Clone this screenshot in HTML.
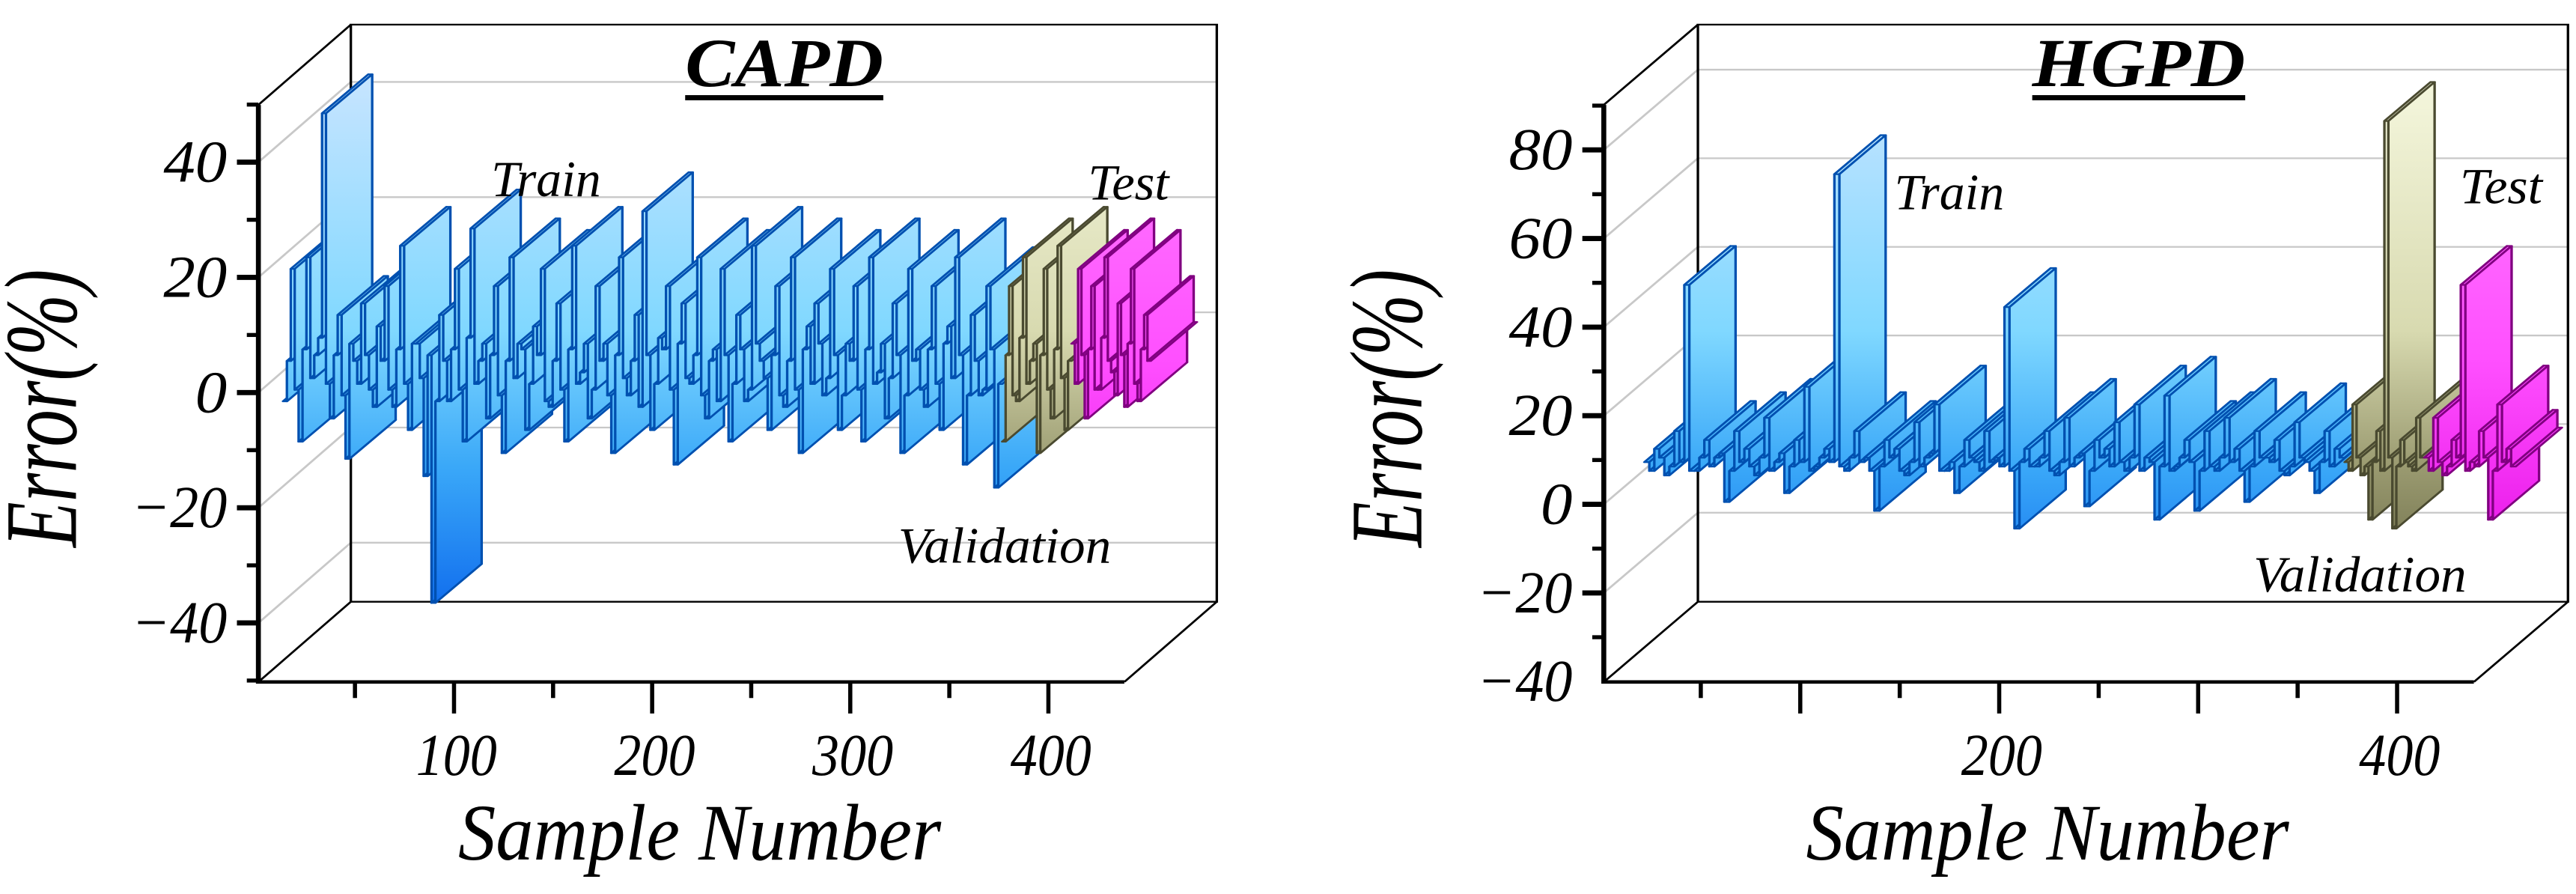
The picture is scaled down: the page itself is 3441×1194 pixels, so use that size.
<!DOCTYPE html>
<html><head><meta charset="utf-8"><style>
html,body{margin:0;padding:0;background:#fff;}
svg{display:block;}
text{font-family:"Liberation Serif","DejaVu Serif",serif;font-style:italic;fill:#000;}
</style></head>
<body>
<svg id="fig" width="3441" height="1194" viewBox="0 0 3441 1194">
<defs>
<linearGradient id="gTrain" gradientUnits="userSpaceOnUse" x1="0" y1="150" x2="0" y2="1100">
<stop offset="0" stop-color="#c4e4ff"/><stop offset="0.45" stop-color="#80d8ff"/><stop offset="0.7" stop-color="#3aa8f8"/><stop offset="1" stop-color="#0a64ec"/></linearGradient>
<linearGradient id="gVal" gradientUnits="userSpaceOnUse" x1="0" y1="150" x2="0" y2="1100">
<stop offset="0" stop-color="#f4f6dc"/><stop offset="0.45" stop-color="#d8dab0"/><stop offset="0.7" stop-color="#9a9a70"/><stop offset="1" stop-color="#5a5a38"/></linearGradient>
<linearGradient id="gTest" gradientUnits="userSpaceOnUse" x1="0" y1="150" x2="0" y2="1100">
<stop offset="0" stop-color="#ff80ff"/><stop offset="0.5" stop-color="#ff50ff"/><stop offset="1" stop-color="#e000e0"/></linearGradient>
</defs>
<g id="chartL" transform="scale(1.1027,0.7654)"></g>
<g id="chartR" transform="translate(1720,0) scale(1.1027,0.7654)"></g>
</svg>
<script>
// CAPD data (Error %)
const capdTrain = [-5,2,18,-3,-12,4,20,-1,3,6,45,-2,-8,3,10,-4,-15,5,2,-2,12,3,-3,-6,8,2,15,-3,-6,4,22,-2,-10,5,5,-1,-18,3,-40,-5,10,2,-5,4,18,-3,-12,6,25,-2,2,5,-8,3,15,-4,-14,2,20,-1,5,4,-10,-2,8,3,18,-5,-6,2,12,-3,-12,4,22,-2,0,5,-8,-3,15,2,5,-4,-14,3,20,-1,-4,2,10,-6,28,3,-10,-2,6,4,15,-3,-16,5,12,-1,-2,3,20,-4,-8,2,4,-5,18,3,-12,-2,10,4,-5,-3,22,5,2,-1,-10,3,15,-4,-6,2,20,-3,-14,4,8,-2,12,5,-4,-1,18,3,-10,-4,5,2,15,-3,-12,4,20,-2,0,5,-8,-1,12,3,-14,-4,18,2,4,-3,-6,4,15,-2,-10,5,8,-1,20,3,-16,-4,10,2,-4,-3,15,4,-20,-2];
const capdVal = [-12,3,15,-4,-5,6,20,-2,2,5,-14,3,18,-3,-8,4,22,-1,-10,2];
const capdTest = [5,-2,18,3,-8,4,15,-3,-3,6,20,2,0,-4,12,3,-6,5,18,-2,-5,4,10,2];
const capdYTicks = [-40,-20,0,20,40];
const capdXTicks = [100,200,300,400];
// HGPD data (Error %)
const hgpdTrain = [5,3,8,6,2,4,12,5,45,3,3,6,10,4,6,7,-4,3,12,5,8,4,2,6,15,3,5,7,-2,4,10,5,22,3,4,6,8,5,70,4,3,6,12,5,6,3,-6,4,10,6,8,3,2,5,14,4,6,7,18,3,3,5,-2,4,10,6,5,3,12,5,6,4,40,3,-10,5,8,4,4,6,12,3,2,5,15,4,6,7,-5,3,10,6,8,4,14,5,3,6,18,3,6,5,-8,4,20,3,4,6,10,5,-6,3,12,4,3,6,15,5,8,3,-4,4,12,6,6,5,10,3,2,4,14,6,5,3,-2,5,12,4,8,6];
const hgpdVal = [5,3,18,6,2,4,-8,5,12,3,82,6,-10,4,10,5,4,3,15,6];
const hgpdTest = [6,3,15,5,2,4,10,6,45,3,5,4,12,6,-8,3,18,5,8,4];
const hgpdYTicks = [-40,-20,0,20,40,60,80];
const hgpdXTicks = [200,400];

const NS = "http://www.w3.org/2000/svg";
function mk(tag, attrs, parent){const e=document.createElementNS(NS,tag);for(const k in attrs)e.setAttribute(k,attrs[k]);parent.appendChild(e);return e;}

function drawChart(g, c){
  const X = s => c.x0 + s*c.xs;
  const Y = v => c.y0 - v*c.ys;
  const L=c.L, R=c.R, T=c.T, B=c.B, dx=c.dx, dy=c.dy;
  for(let v=c.gmin; v<=c.gmax; v+=20){
    const gl = mk('line',{x1:L+dx,y1:Y(v)+dy,x2:R+dx,y2:Y(v)+dy,stroke:'#c8c8c8','stroke-width':3},g);
    
    
    const sl = mk('line',{x1:L,y1:Y(v),x2:L+dx,y2:Y(v)+dy,stroke:'#c8c8c8','stroke-width':3},g);
    
    
  }
  const frame = mk('path',{d:`M${L+dx},${B+dy} V${T+dy} H${R+dx} V${B+dy} H${L+dx} M${L},${T} L${L+dx},${T+dy} M${L},${B} L${L+dx},${B+dy} M${R},${B} L${R+dx},${B+dy}`,fill:'none',stroke:'#000','stroke-width':3},g);
  
  
  const series = [[c.train,c.trainStart,c.trainEnd,'url(#gTrain)','#0050b0','train-series'],[c.val,c.valStart,c.valEnd,'url(#gVal)','#4a4a30','validation-series'],[c.test,c.testStart,c.testEnd,'url(#gTest)','#800080','test-series']];
  const ox=c.ox, oy=c.oy, rx=c.rx, ry=c.ry;
  series.forEach(([vals,s0,s1,fill,stroke,name])=>{
    const sg = mk('g',{},g);
    
    
    const step=(s1-s0)/vals.length;
    const quad=(xa,ya,xb,yb)=>{
      const p = mk('polygon',{points:`${xa+ox},${ya+oy} ${xb+ox},${yb+oy} ${xb+ox+rx},${yb+oy+ry} ${xa+ox+rx},${ya+oy+ry}`,fill:fill,stroke:stroke,'stroke-width':3,'stroke-linejoin':'round'},sg);
      
      
    };
    for(let i=0;i<vals.length;i++){
      const xa=X(s0+i*step), xb=X(s0+(i+1)*step);
      if(i>0) quad(xa,Y(vals[i-1]),xa,Y(vals[i]));
      quad(xa,Y(vals[i]),xb,Y(vals[i]));
    }
  });
  const ax = mk('path',{d:`M${L},${T} V${B} H${R}`,fill:'none',stroke:'#000','stroke-width':6},g);
  
  
  for(let v=c.gmin-10; v<=c.gmax+10; v+=10){
    if(Y(v)<T-1||Y(v)>B+1) continue;
    const major = (v%20===0);
    const t = mk('line',{x1:L-(major?26:14),y1:Y(v),x2:L,y2:Y(v),stroke:'#000','stroke-width':major?9:7},g);
    
    
  }
  c.yTicks.forEach(v=>{
    const lbl=(v<0?'\u2212':'')+Math.abs(v);
    const t = mk('text',{x:L-38,y:Y(v)+34,'text-anchor':'end','font-size':104,'font-family':'Liberation Serif, DejaVu Serif, serif',textLength:(lbl.length*38.5),lengthAdjust:'spacingAndGlyphs'},g);
    t.textContent=lbl;
    
    
  });
  for(let s=50; X(s)<R; s+=50){
    const major = (s%100===0);
    const t = mk('line',{x1:X(s),y1:B,x2:X(s),y2:B+(major?55:28),stroke:'#000','stroke-width':5},g);
    
    
  }
  c.xTicks.forEach(s=>{
    const t = mk('text',{x:X(s)+3,y:B+162,'text-anchor':'middle','font-size':104,'font-family':'Liberation Serif, DejaVu Serif, serif',textLength:98,lengthAdjust:'spacingAndGlyphs'},g);
    t.textContent=String(s);
    
    
  });
}

const chartL=document.getElementById('chartL');
drawChart(chartL,{x0:310,xs:2.4,y0:685,ys:10.05,L:313,R:1362,T:183,B:1190,dx:112,dy:-140,gmin:-40,gmax:40,
  ox:28,oy:-35,rx:56,ry:-68,
  train:capdTrain,trainStart:2,trainEnd:365,val:capdVal,valStart:365,valEnd:400,test:capdTest,testStart:400,testEnd:440,
  yTicks:capdYTicks,xTicks:capdXTicks});
const chartR=document.getElementById('chartR');
drawChart(chartR,{x0:380,xs:2.41,y0:880,ys:7.73,L:383,R:1437,T:183,B:1190,dx:114,dy:-140,gmin:-20,gmax:80,
  ox:28,oy:-35,rx:56,ry:-68,
  train:hgpdTrain,trainStart:10,trainEnd:362,val:hgpdVal,valStart:362,valEnd:402,test:hgpdTest,testStart:402,testEnd:448,
  yTicks:hgpdYTicks,xTicks:hgpdXTicks});

function label(g,txt,x,y,size,len,name,extra){
  const t=mk('text',Object.assign({x:x,y:y,'font-size':size,'font-family':'Liberation Serif, DejaVu Serif, serif',textLength:len,lengthAdjust:'spacingAndGlyphs'},extra||{}),g);
  t.textContent=txt;
  
  
  return t;
}
label(chartL,'CAPD',830,150,120,240,'chart-title',{'font-weight':'bold'});
let u=mk('rect',{x:830,y:166,width:240,height:9,fill:'#000'},chartL);


label(chartL,'Train',595,342,88,133,'train-label');
label(chartL,'Test',1318,348,88,98,'test-label');
label(chartL,'Validation',1088,982,88,258,'validation-label');
label(chartL,'Sample Number',555,1500,140,585,'x-axis-title');
label(chartL,'Error(%)',0,0,125,485,'y-axis-title',{transform:'translate(92,955) rotate(-90)'});
label(chartR,'HGPD',902,150,120,258,'chart-title',{'font-weight':'bold'});
u=mk('rect',{x:902,y:166,width:258,height:9,fill:'#000'},chartR);


label(chartR,'Train',735,365,88,133,'train-label');
label(chartR,'Test',1420,355,88,100,'test-label');
label(chartR,'Validation',1170,1032,88,258,'validation-label');
label(chartR,'Sample Number',628,1500,140,585,'x-axis-title');
label(chartR,'Error(%)',0,0,125,485,'y-axis-title',{transform:'translate(162,955) rotate(-90)'});
</script>
</body></html>
